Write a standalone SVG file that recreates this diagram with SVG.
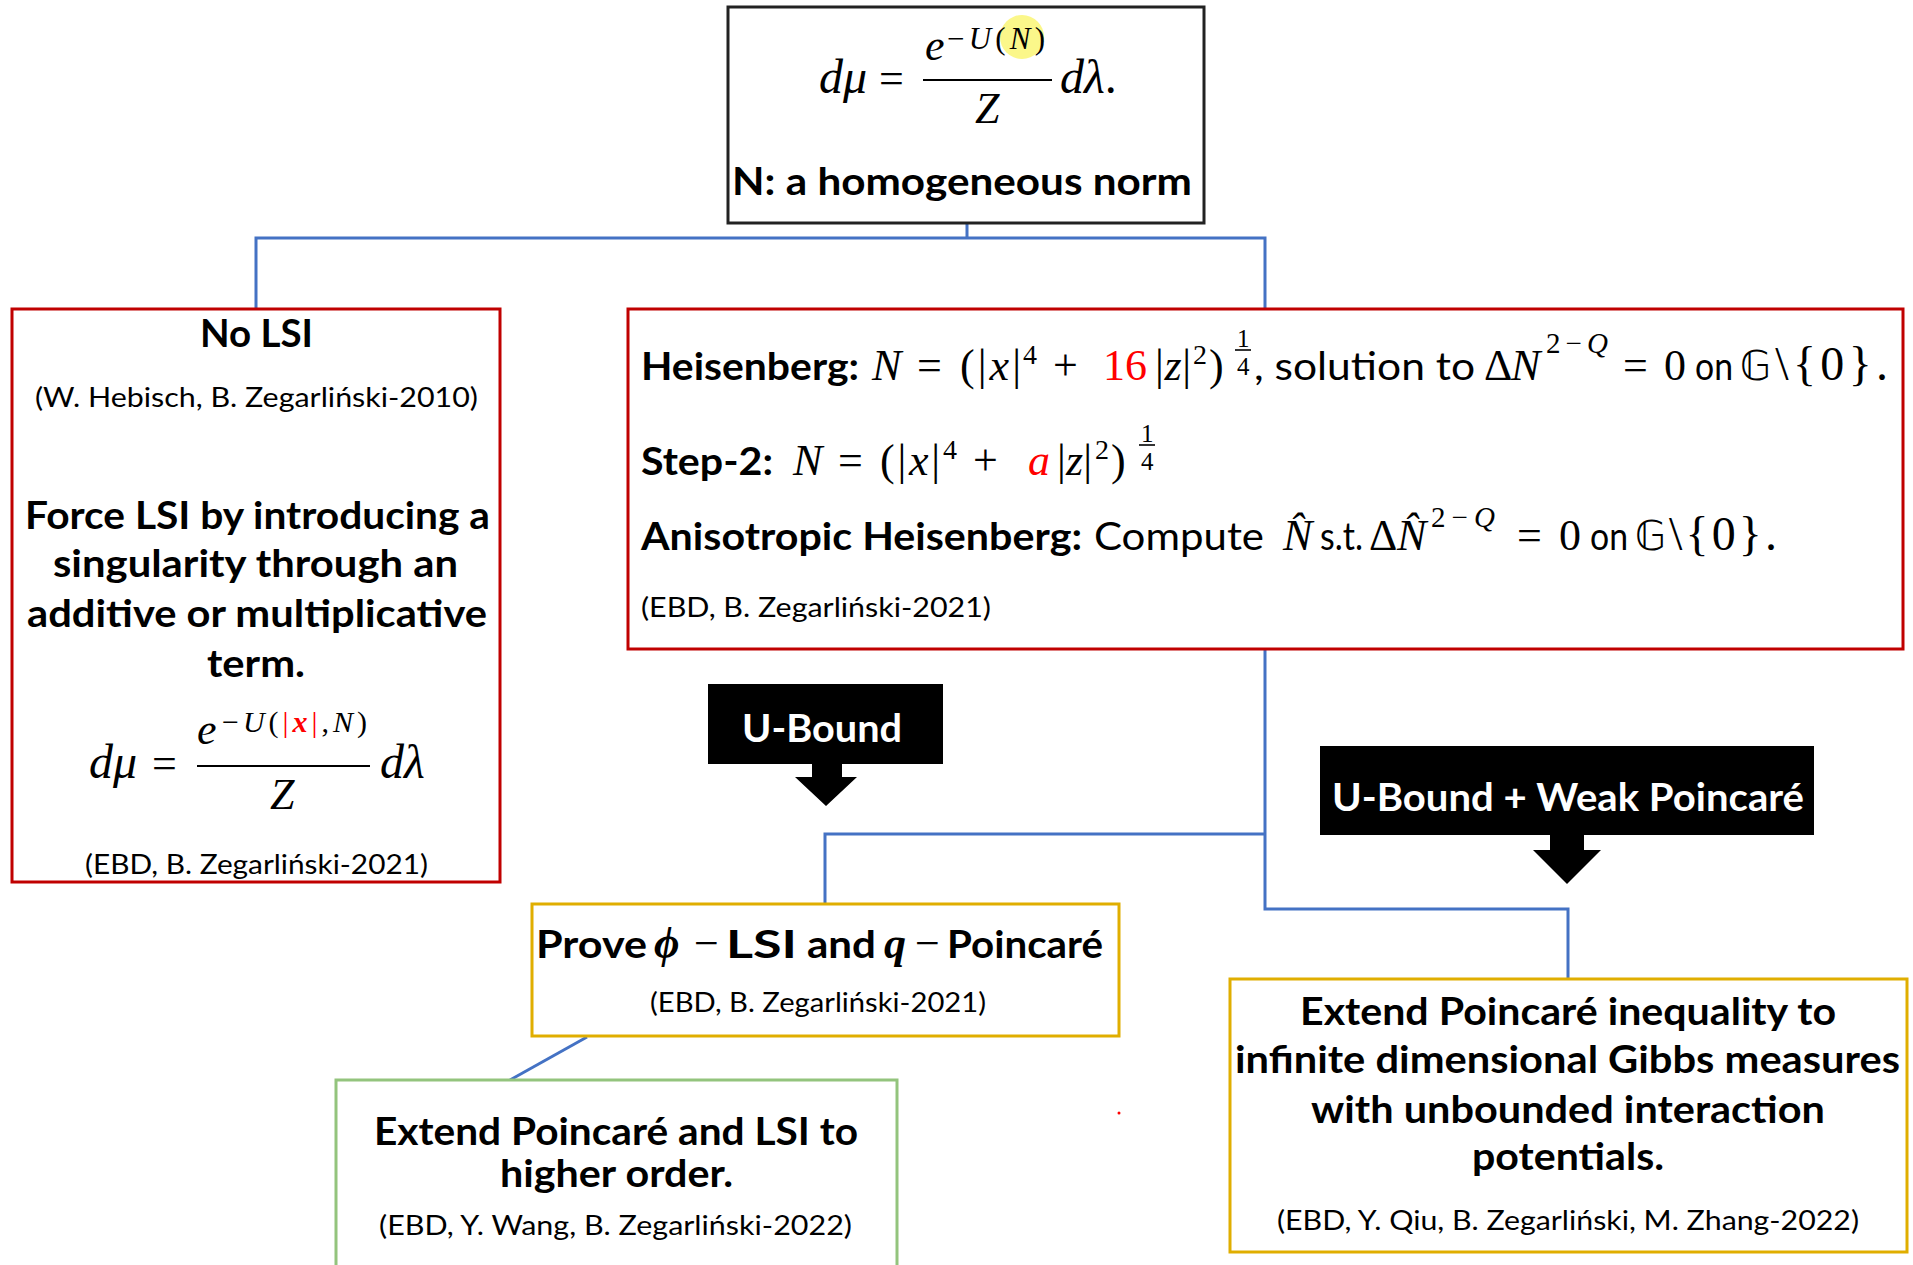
<svg xmlns="http://www.w3.org/2000/svg" width="1913" height="1265" viewBox="0 0 1913 1265">
<style>
.b{font-family:Lato,"Liberation Sans",sans-serif;font-weight:700;font-size:38px;fill:#000}
.s{font-family:Lato,"Liberation Sans",sans-serif;font-weight:400;font-size:38px;fill:#000}
.r{font-family:Lato,"Liberation Sans",sans-serif;font-weight:400;font-size:27px;fill:#000}
.w{font-family:Lato,"Liberation Sans",sans-serif;font-weight:700;font-size:39px;fill:#fff}
.m{font-family:"Liberation Serif","DejaVu Serif",serif;font-style:italic;font-size:44px;fill:#000}
.u{font-style:normal}
.sup{font-size:29px}
.sup2{font-size:28px}
.fr{font-size:25px}
.set{font-size:48px}
.red{fill:#f00}
.ds{font-family:"DejaVu Sans","DejaVu Serif",sans-serif;font-style:normal;font-size:40px}
.box{fill:#fff;stroke-width:3}
.conn{fill:none;stroke:#4472C4;stroke-width:3}
.bar{stroke:#000;stroke-width:1.6}
</style>
<rect width="1913" height="1265" fill="#fff"/>
<g id="connectors">
<path class="conn" d="M967,223 V238 M256,309 V238 H1265 V309"/>
<path class="conn" d="M1265,649 V909 H1568 V979 M1265,834 H825 V904"/>
<path class="conn" d="M587,1037 L510,1080"/>
</g>
<g id="node-measure">
<rect class="box" x="728" y="7" width="476" height="216" stroke="#222"/>
<circle cx="1022" cy="37" r="22" fill="#FBF78A"/>
<text class="m" x="819" y="93" style="font-size:48px">dμ</text>
<text class="m u" x="879" y="93">=</text>
<line x1="923" y1="80" x2="1052" y2="80" stroke="#000" stroke-width="2"/>
<text class="m" x="925" y="60">e</text>
<text class="m" x="947" y="49" style="font-size:31px" textLength="98" lengthAdjust="spacing"><tspan class="u">−</tspan>U<tspan class="u">(</tspan>N<tspan class="u">)</tspan></text>
<text class="m" x="975" y="123">Z</text>
<text class="m" x="1060" y="93" style="font-size:48px">dλ<tspan class="u">.</tspan></text>
<text class="b" x="732" y="195" textLength="460" lengthAdjust="spacingAndGlyphs">N: a homogeneous norm</text>
</g>
<g id="node-nolsi">
<rect class="box" x="12" y="309" width="488" height="573" stroke="#C00000"/>
<text class="b" x="200" y="347" textLength="113" lengthAdjust="spacingAndGlyphs">No LSI</text>
<text class="r" x="35" y="407" textLength="443" lengthAdjust="spacingAndGlyphs">(W. Hebisch, B. Zegarliński-2010)</text>
<text class="b" x="25" y="529" textLength="465" lengthAdjust="spacingAndGlyphs">Force LSI by introducing a</text>
<text class="b" x="53" y="577" textLength="405" lengthAdjust="spacingAndGlyphs">singularity through an</text>
<text class="b" x="27" y="627" textLength="460" lengthAdjust="spacingAndGlyphs">additive or multiplicative</text>
<text class="b" x="207" y="677" textLength="98" lengthAdjust="spacingAndGlyphs">term.</text>
<text class="m" x="89" y="778" style="font-size:48px">dμ</text>
<text class="m u" x="152" y="778">=</text>
<line x1="197" y1="766" x2="370" y2="766" stroke="#000" stroke-width="2"/>
<text class="m" x="197" y="744">e</text>
<text class="m" x="222" y="732" style="font-size:30px" textLength="145" lengthAdjust="spacing"><tspan class="u">−</tspan>U<tspan class="u">(</tspan><tspan class="u red">|</tspan><tspan class="red" font-weight="700">x</tspan><tspan class="u red">|</tspan><tspan class="u">,</tspan>N<tspan class="u">)</tspan></text>
<text class="m" x="270" y="809">Z</text>
<text class="m" x="380" y="778" style="font-size:48px">dλ</text>
<text class="r" x="85" y="874" textLength="343" lengthAdjust="spacingAndGlyphs">(EBD, B. Zegarliński-2021)</text>
</g>
<g id="node-heisenberg">
<rect class="box" x="628" y="309" width="1275" height="340" stroke="#C00000"/>
<text class="b" x="641" y="380" textLength="218" lengthAdjust="spacingAndGlyphs">Heisenberg:</text>
<text class="m" x="872" y="380">N</text>
<text class="m u" x="917" y="380">=</text>
<text class="m" x="960" y="380" textLength="61" lengthAdjust="spacing"><tspan class="u">(|</tspan>x<tspan class="u">|</tspan></text>
<text class="m u sup2" x="1023" y="364">4</text>
<text class="m u" x="1053" y="380">+</text>
<text class="m u red" x="1103" y="380">16</text>
<text class="m" x="1155" y="380" textLength="36" lengthAdjust="spacing"><tspan class="u">|</tspan>z<tspan class="u">|</tspan></text>
<text class="m u sup2" x="1193" y="364">2</text>
<text class="m u" x="1209" y="380">)</text>
<text class="m u fr" x="1237" y="347">1</text>
<line class="bar" x1="1235" y1="350" x2="1251" y2="350"/>
<text class="m u fr" x="1237" y="375">4</text>
<text class="s" x="1254" y="380" textLength="221" lengthAdjust="spacingAndGlyphs">, solution to</text>
<text class="m u" x="1484" y="380">Δ</text>
<text class="m" x="1511" y="380">N</text>
<text class="m sup" x="1546" y="353" textLength="62" lengthAdjust="spacing"><tspan class="u">2−</tspan>Q</text>
<text class="m u" x="1623" y="380">=</text>
<text class="m u" x="1664" y="380">0</text>
<text class="s" x="1695" y="380" textLength="38" lengthAdjust="spacingAndGlyphs">on</text>
<text class="m u set" x="1740" y="380" textLength="148" lengthAdjust="spacing"><tspan class="ds">𝔾</tspan>\{0}.</text>
<text class="b" x="641" y="475" textLength="132" lengthAdjust="spacingAndGlyphs">Step-2:</text>
<text class="m" x="793" y="475">N</text>
<text class="m u" x="838" y="475">=</text>
<text class="m" x="880" y="475" textLength="60" lengthAdjust="spacing"><tspan class="u">(|</tspan>x<tspan class="u">|</tspan></text>
<text class="m u sup2" x="943" y="459">4</text>
<text class="m u" x="973" y="475">+</text>
<text class="m red" x="1028" y="475">a</text>
<text class="m" x="1057" y="475" textLength="35" lengthAdjust="spacing"><tspan class="u">|</tspan>z<tspan class="u">|</tspan></text>
<text class="m u sup2" x="1095" y="459">2</text>
<text class="m u" x="1111" y="475">)</text>
<text class="m u fr" x="1141" y="442">1</text>
<line class="bar" x1="1139" y1="445" x2="1155" y2="445"/>
<text class="m u fr" x="1141" y="470">4</text>
<text class="b" x="641" y="550" textLength="441" lengthAdjust="spacingAndGlyphs">Anisotropic Heisenberg:</text>
<text class="s" x="1094" y="550" textLength="170" lengthAdjust="spacingAndGlyphs">Compute</text>
<text class="m" x="1283" y="550">N̂</text>
<text class="s" x="1320" y="550" textLength="43" lengthAdjust="spacingAndGlyphs">s.t.</text>
<text class="m u" x="1369" y="550">Δ</text>
<text class="m" x="1397" y="550">N̂</text>
<text class="m sup" x="1431" y="527" textLength="64" lengthAdjust="spacing"><tspan class="u">2−</tspan>Q</text>
<text class="m u" x="1517" y="550">=</text>
<text class="m u" x="1559" y="550">0</text>
<text class="s" x="1590" y="550" textLength="38" lengthAdjust="spacingAndGlyphs">on</text>
<text class="m u set" x="1635" y="550" textLength="142" lengthAdjust="spacing"><tspan class="ds">𝔾</tspan>\{0}.</text>
<text class="r" x="641" y="617" textLength="350" lengthAdjust="spacingAndGlyphs">(EBD, B.  Zegarliński-2021)</text>
</g>
<g id="label-ubound">
<rect x="708" y="684" width="235" height="80" fill="#000"/>
<polygon points="812,763 842,763 842,777 857,777 826,806 795,777 812,777" fill="#000"/>
<text class="w" x="742" y="742" textLength="160" lengthAdjust="spacingAndGlyphs">U-Bound</text>
</g>
<g id="label-ubound-weak">
<rect x="1320" y="746" width="494" height="89" fill="#000"/>
<polygon points="1550,834 1584,834 1584,850 1601,850 1567,884 1533,850 1550,850" fill="#000"/>
<text class="w" x="1332" y="811" textLength="472" lengthAdjust="spacingAndGlyphs">U-Bound + Weak Poincaré</text>
</g>
<g id="node-prove">
<rect class="box" x="532" y="904" width="587" height="132" stroke="#E0AE00"/>
<text class="b" x="536" y="958" textLength="111" lengthAdjust="spacingAndGlyphs">Prove</text>
<text class="m" x="654" y="958" font-weight="700">ϕ</text>
<text class="m u" x="694" y="958">−</text>
<text class="b" x="726" y="958" textLength="71" lengthAdjust="spacingAndGlyphs">LSI</text>
<text class="b" x="807" y="958" textLength="69" lengthAdjust="spacingAndGlyphs">and</text>
<text class="m" x="884" y="958" font-weight="700">q</text>
<text class="m u" x="915" y="958">−</text>
<text class="b" x="947" y="958" textLength="156" lengthAdjust="spacingAndGlyphs">Poincaré</text>
<text class="r" x="650" y="1012" textLength="336" lengthAdjust="spacingAndGlyphs">(EBD, B. Zegarliński-2021)</text>
</g>
<g id="node-higher-order">
<rect class="box" x="336" y="1080" width="561" height="200" stroke="#93C47D"/>
<text class="b" x="374" y="1145" textLength="484" lengthAdjust="spacingAndGlyphs">Extend Poincaré and LSI to</text>
<text class="b" x="500" y="1187" textLength="233" lengthAdjust="spacingAndGlyphs">higher order.</text>
<text class="r" x="379" y="1235" textLength="473" lengthAdjust="spacingAndGlyphs">(EBD, Y. Wang, B. Zegarliński-2022)</text>
</g>
<g id="node-gibbs">
<rect class="box" x="1230" y="979" width="677" height="273" stroke="#E0AE00"/>
<text class="b" x="1300" y="1025" textLength="536" lengthAdjust="spacingAndGlyphs">Extend Poincaré inequality to</text>
<text class="b" x="1235" y="1073" textLength="665" lengthAdjust="spacingAndGlyphs">infinite dimensional Gibbs measures</text>
<text class="b" x="1311" y="1123" textLength="514" lengthAdjust="spacingAndGlyphs">with unbounded interaction</text>
<text class="b" x="1472" y="1170" textLength="192" lengthAdjust="spacingAndGlyphs">potentials.</text>
<text class="r" x="1277" y="1230" textLength="582" lengthAdjust="spacingAndGlyphs">(EBD, Y. Qiu, B. Zegarliński, M. Zhang-2022)</text>
</g>
<circle cx="1119" cy="1113" r="1.5" fill="#f00"/>
</svg>
